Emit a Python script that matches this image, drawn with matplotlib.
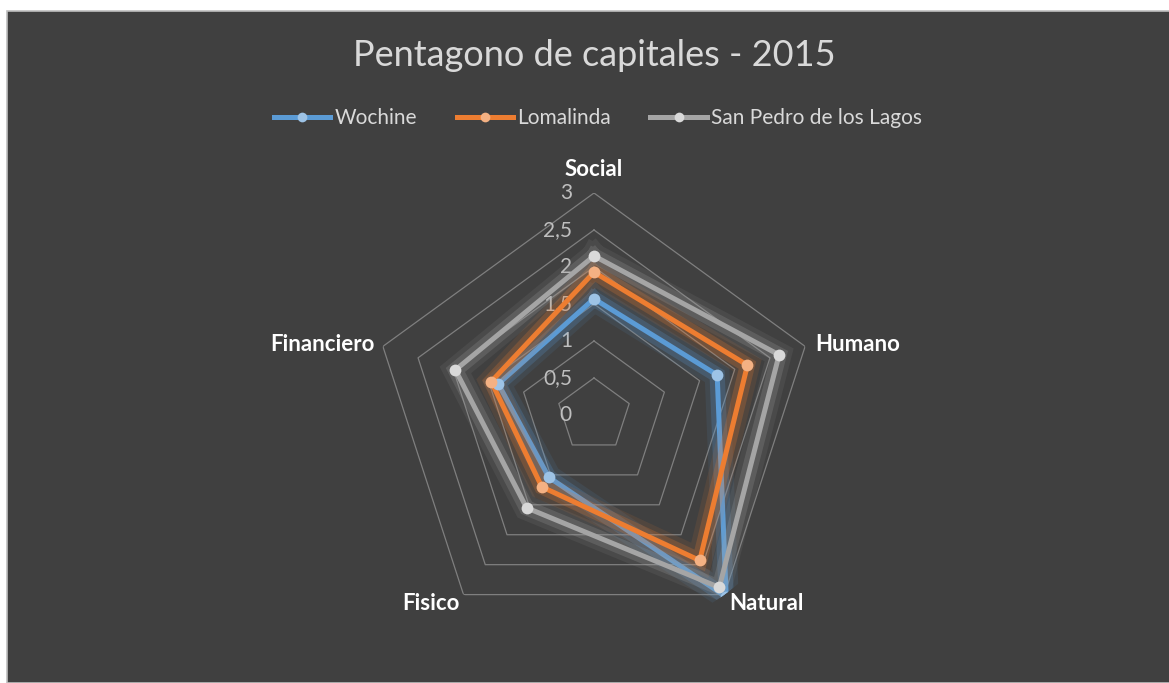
import matplotlib.pyplot as plt
import matplotlib.patheffects as pe
import numpy as np
from matplotlib.lines import Line2D
from matplotlib.patches import Rectangle

TITLE = "Pentagono de capitales - 2015"
CATEGORIES = ["Social", "Humano", "Natural", "Fisico", "Financiero"]
SERIES_NAMES = ["Wochine", "Lomalinda", "San Pedro de los Lagos"]
WOCHINE = [1.57, 1.75, 3.04, 1.04, 1.36]
LOMALINDA = [1.93, 2.18, 2.43, 1.20, 1.46]
SAN_PEDRO = [2.15, 2.63, 2.88, 1.55, 1.97]
RING_TICKS = [0, 0.5, 1, 1.5, 2, 2.5, 3]
RING_LABELS = ["0", "0,5", "1", "1,5", "2", "2,5", "3"]

LINE_COLORS = ["#5B9BD5", "#ED7D31", "#A5A5A5"]
MARKER_COLORS = ["#9DC3E6", "#F4B183", "#D9D9D9"]
BG = "#404040"
TEXT = "#D9D9D9"

W, H = 1169, 683
fig = plt.figure(figsize=(W / 100, H / 100), dpi=100, facecolor="white")
plt.rcParams["font.family"] = ["Lato", "DejaVu Sans"]

# dark chart area with thin light border
fig.patches.append(Rectangle((7 / W, 0), 1, 1 - 11 / H, transform=fig.transFigure,
                             facecolor=BG, edgecolor="#BFBFBF", linewidth=1.2, zorder=-5))

cx, cy, rad = 594, 415, 222
ax = fig.add_axes([(cx - rad) / W, (H - cy - rad) / H, 2 * rad / W, 2 * rad / H],
                  projection="polar")
ax.set_zorder(2)
ax.patch.set_visible(False)
ax.set_theta_offset(np.pi / 2)
ax.set_theta_direction(-1)
ax.set_ylim(0, 3)
ax.grid(False)
ax.set_xticks([])
ax.set_yticks([])
ax.spines["polar"].set_visible(False)

n = len(CATEGORIES)
theta = np.linspace(0, 2 * np.pi, n, endpoint=False)
theta_c = np.append(theta, theta[0])

for r in RING_TICKS[1:]:
    ax.plot(theta_c, [r] * (n + 1), color="#7F7F7F", lw=0.9, zorder=1)

for r, lab in zip(RING_TICKS, RING_LABELS):
    ax.annotate(lab, (0, r), xytext=(-22, 0), textcoords="offset pixels",
                ha="right", va="center", color="#BFBFBF", fontsize=15, zorder=2)

for vals, lc, mc in zip([WOCHINE, LOMALINDA, SAN_PEDRO], LINE_COLORS, MARKER_COLORS):
    v = np.append(vals, vals[0])
    glow = [pe.Stroke(linewidth=18, foreground=lc, alpha=0.10),
            pe.Stroke(linewidth=11, foreground=lc, alpha=0.22),
            pe.Normal()]
    ax.plot(theta_c, v, color=lc, lw=3.6, solid_joinstyle="miter",
            path_effects=glow, zorder=3)
    ax.plot(theta, vals, "o", color=mc, markersize=8.5, markeredgewidth=0, zorder=4)

label_pos = {
    "Social": ((0, 24), "center", "center"),
    "Humano": ((10, 2), "left", "center"),
    "Natural": ((5, -9), "left", "center"),
    "Fisico": ((-4, -9), "right", "center"),
    "Financiero": ((-8, 2), "right", "center"),
}
for t, cat in zip(theta, CATEGORIES):
    off, ha, va = label_pos[cat]
    ax.annotate(cat, (t, 3), xytext=off, textcoords="offset pixels", ha=ha, va=va,
                color="white", fontsize=16, fontweight="bold", annotation_clip=False)

fig.text(cx / W, 1 - 55 / H, TITLE, ha="center", va="center", color=TEXT,
         fontsize=26)

handles = [Line2D([], [], color=lc, lw=3.6, marker="o", markersize=7,
                  markerfacecolor=mc, markeredgewidth=0)
           for lc, mc in zip(LINE_COLORS, MARKER_COLORS)]
leg = fig.legend(handles, SERIES_NAMES, loc="center", ncol=3,
                 bbox_to_anchor=(598 / W, 1 - 118 / H), frameon=False,
                 fontsize=15, handlelength=2.7, handletextpad=0.2,
                 columnspacing=1.9)
for t in leg.get_texts():
    t.set_color(TEXT)

fig.savefig("out.png", dpi=100, facecolor=fig.get_facecolor())
